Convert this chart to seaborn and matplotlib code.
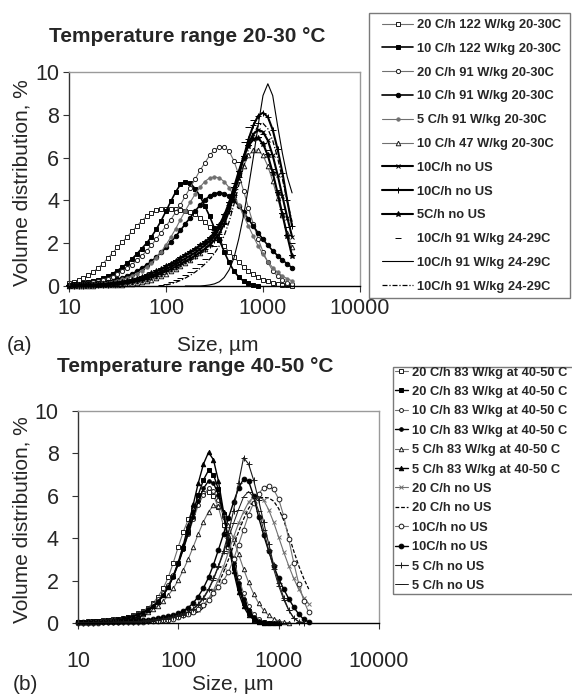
import numpy as np
import matplotlib
matplotlib.use("Agg")
import matplotlib.pyplot as plt
import seaborn as sns
from matplotlib.patches import Rectangle
from matplotlib.ticker import NullLocator, FixedLocator

# ---------------- data ----------------
sizes = [10.0, 11.2, 12.6, 14.1, 15.8, 17.8, 20.0, 22.4, 25.1, 28.2,
         31.6, 35.5, 39.8, 44.7, 50.1, 56.2, 63.1, 70.8, 79.4, 89.1,
         100, 112, 126, 141, 158, 178, 200, 224, 251, 282,
         316, 355, 398, 447, 501, 562, 631, 708, 794, 891,
         1000, 1122, 1259, 1413, 1585, 1778, 1995]

N = None

top_labels = ["20 C/h 122 W/kg 20-30C", "10 C/h 122 W/kg 20-30C",
              "20 C/h 91 W/kg 20-30C", "10 C/h 91 W/kg 20-30C",
              "5 C/h 91 W/kg 20-30C", "10 C/h 47 W/kg 20-30C",
              "10C/h no US", "10C/h no US", "5C/h no US",
              "10C/h 91 W/kg 24-29C", "10C/h 91 W/kg 24-29C",
              "10C/h 91 W/kg 24-29C"]

t1 = [0.15, 0.2, 0.28, 0.38, 0.5, 0.65, 0.85, 1.05, 1.3, 1.55,
      1.8, 2.05, 2.3, 2.55, 2.8, 3.05, 3.25, 3.4, 3.55, 3.6,
      3.62, 3.62, 3.6, 3.57, 3.52, 3.45, 3.35, 3.2, 3.0, 2.75,
      2.45, 2.15, 1.85, 1.6, 1.35, 1.1, 0.9, 0.7, 0.55, 0.42,
      0.3, 0.22, 0.15, 0.1, 0.07, 0.04, 0.02]
t2 = [0.06, 0.08, 0.1, 0.13, 0.17, 0.22, 0.28, 0.36, 0.46, 0.58,
      0.72, 0.88, 1.06, 1.27, 1.5, 1.75, 2.0, 2.3, 2.65, 3.05,
      3.5, 3.95, 4.4, 4.75, 4.88, 4.8, 4.55, 4.2, 3.75, 3.25,
      2.7, 2.15, 1.6, 1.1, 0.7, 0.42, 0.23, 0.12, 0.05, 0.01,
      N, N, N, N, N, N, N]
t3 = [0.05, 0.06, 0.08, 0.1, 0.13, 0.17, 0.22, 0.28, 0.35, 0.44,
      0.55, 0.68, 0.83, 1.0, 1.2, 1.4, 1.65, 1.9, 2.2, 2.5,
      2.8, 3.1, 3.45, 3.8, 4.2, 4.6, 5.0, 5.4, 5.75, 6.1,
      6.35, 6.5, 6.5, 6.3, 5.85, 5.2, 4.45, 3.65, 2.9, 2.2,
      1.6, 1.1, 0.72, 0.45, 0.27, 0.15, 0.08]
t4 = [0.03, 0.04, 0.05, 0.06, 0.08, 0.1, 0.13, 0.16, 0.2, 0.25,
      0.31, 0.38, 0.47, 0.57, 0.69, 0.83, 0.98, 1.15, 1.35, 1.57,
      1.8, 2.05, 2.32, 2.6, 2.9, 3.2, 3.5, 3.78, 4.02, 4.2,
      4.32, 4.36, 4.32, 4.2, 4.0, 3.75, 3.45, 3.12, 2.8, 2.48,
      2.18, 1.9, 1.65, 1.42, 1.22, 1.03, 0.85]
t5 = [0.02, 0.03, 0.04, 0.05, 0.06, 0.08, 0.1, 0.13, 0.16, 0.2,
      0.25, 0.31, 0.38, 0.47, 0.58, 0.72, 0.88, 1.08, 1.32, 1.6,
      1.92, 2.28, 2.68, 3.1, 3.52, 3.92, 4.3, 4.62, 4.88, 5.05,
      5.1, 5.05, 4.88, 4.6, 4.22, 3.78, 3.3, 2.8, 2.32, 1.88,
      1.48, 1.14, 0.86, 0.64, 0.47, 0.34, 0.24]
t6 = [0.01, 0.01, 0.01, 0.02, 0.02, 0.02, 0.03, 0.03, 0.04, 0.05,
      0.06, 0.07, 0.09, 0.11, 0.14, 0.18, 0.23, 0.3, 0.38, 0.47,
      0.57, 0.68, 0.8, 0.93, 1.07, 1.22, 1.38, 1.55, 1.75, 1.98,
      2.25, 2.6, 3.05, 3.6, 4.25, 4.95, 5.6, 6.1, 6.35, 6.35,
      6.1, 5.6, 4.9, 4.1, 3.3, 2.5, 1.8]
t7 = [0.02, 0.02, 0.03, 0.03, 0.04, 0.05, 0.06, 0.07, 0.08, 0.1,
      0.12, 0.15, 0.18, 0.22, 0.27, 0.33, 0.4, 0.48, 0.57, 0.67,
      0.78, 0.9, 1.02, 1.15, 1.28, 1.42, 1.56, 1.72, 1.9, 2.1,
      2.35, 2.7, 3.15, 3.75, 4.45, 5.25, 6.0, 6.65, 7.1, 7.3,
      7.2, 6.8, 6.1, 5.2, 4.2, 3.2, 2.3]
t8 = [0.01, 0.01, 0.02, 0.02, 0.03, 0.03, 0.04, 0.05, 0.06, 0.08,
      0.1, 0.12, 0.15, 0.19, 0.23, 0.28, 0.34, 0.41, 0.49, 0.58,
      0.68, 0.79, 0.9, 1.02, 1.15, 1.28, 1.42, 1.57, 1.73, 1.92,
      2.15, 2.45, 2.9, 3.5, 4.25, 5.1, 6.0, 6.85, 7.5, 7.95,
      8.1, 7.9, 7.3, 6.4, 5.3, 4.0, 2.8]
t9 = [0.02, 0.03, 0.03, 0.04, 0.05, 0.06, 0.07, 0.09, 0.11, 0.13,
      0.16, 0.2, 0.24, 0.29, 0.35, 0.42, 0.5, 0.59, 0.69, 0.8,
      0.92, 1.05, 1.18, 1.32, 1.46, 1.6, 1.75, 1.9, 2.06, 2.25,
      2.5, 2.85, 3.3, 3.9, 4.6, 5.35, 6.05, 6.55, 6.85, 6.9,
      6.65, 6.1, 5.3, 4.35, 3.35, 2.35, 1.4]
t10 = [N, N, N, N, N, N, N, N, N, N,
       N, N, N, N, N, N, N, N, 0.02, 0.05,
       0.1, 0.17, 0.26, 0.37, 0.5, 0.65, 0.82, 1.02, 1.25, 1.52,
       1.85, 2.3, 2.95, 3.8, 4.8, 5.8, 6.75, 7.45, 7.75, 7.6,
       7.1, 6.35, 5.45, 4.5, 3.6, 2.75, 2.0]
t11 = [N, N, N, N, N, N, N, N, N, N,
       N, N, N, N, N, N, N, N, N, N,
       N, N, N, N, 0.0, 0.0, 0.0, 0.0, 0.02, 0.05,
       0.1, 0.2, 0.4, 0.75, 1.3, 2.2, 3.3, 4.6, 6.0, 7.5,
       8.9, 9.45, 8.9, 7.5, 6.2, 5.1, 4.35]
t12 = [N, N, N, N, N, N, N, N, N, N,
       N, N, N, N, N, N, N, N, N, N,
       0.05, 0.1, 0.17, 0.26, 0.37, 0.5, 0.65, 0.82, 1.02, 1.25,
       1.52, 1.88, 2.35, 3.0, 3.8, 4.7, 5.6, 6.4, 7.05, 7.5,
       7.6, 7.35, 6.8, 6.0, 5.0, 3.95, 3.0]

bot_labels = ["20 C/h 83 W/kg at 40-50 C", "20 C/h 83 W/kg at 40-50 C",
              "10 C/h 83 W/kg at 40-50 C", "10 C/h 83 W/kg at 40-50 C",
              "5 C/h 83 W/kg at 40-50 C", "5 C/h 83 W/kg at 40-50 C",
              "20 C/h no US", "20 C/h no US", "10C/h no US", "10C/h no US",
              "5 C/h no US", "5 C/h no US"]

b1 = [0.06, 0.07, 0.08, 0.09, 0.1, 0.12, 0.14, 0.17, 0.2, 0.25,
      0.3, 0.37, 0.46, 0.58, 0.73, 0.95, 1.25, 1.65, 2.15, 2.85,
      3.6, 4.3, 4.9, 5.4, 5.85, 6.12, 6.2, 6.0, 5.45, 4.6,
      3.6, 2.6, 1.72, 1.02, 0.55, 0.25, 0.1, 0.03, 0.01, 0.0,
      0.0, N, N, N, N, N, N]
b2 = [0.05, 0.06, 0.07, 0.08, 0.09, 0.1, 0.12, 0.14, 0.17, 0.21,
      0.26, 0.32, 0.4, 0.5, 0.63, 0.8, 1.02, 1.32, 1.7, 2.2,
      2.82, 3.55, 4.38, 5.25, 6.05, 6.75, 7.2, 7.0, 6.3, 5.15,
      3.85, 2.65, 1.65, 0.95, 0.48, 0.2, 0.07, 0.02, 0.0, 0.0,
      0.0, N, N, N, N, N, N]
b3 = [0.06, 0.07, 0.08, 0.09, 0.1, 0.12, 0.14, 0.17, 0.2, 0.24,
      0.29, 0.36, 0.45, 0.56, 0.7, 0.88, 1.12, 1.42, 1.8, 2.28,
      2.85, 3.5, 4.2, 4.9, 5.55, 6.05, 6.35, 6.25, 5.8, 5.0,
      4.05, 3.05, 2.15, 1.4, 0.82, 0.42, 0.19, 0.07, 0.02, 0.0,
      0.0, N, N, N, N, N, N]
b4 = [0.05, 0.06, 0.07, 0.08, 0.09, 0.11, 0.13, 0.15, 0.18, 0.22,
      0.27, 0.33, 0.41, 0.51, 0.64, 0.81, 1.03, 1.32, 1.7, 2.18,
      2.78, 3.48, 4.25, 5.02, 5.75, 6.35, 6.7, 6.6, 6.05, 5.1,
      3.95, 2.85, 1.88, 1.12, 0.6, 0.28, 0.11, 0.04, 0.01, 0.0,
      0.0, N, N, N, N, N, N]
b5 = [0.05, 0.06, 0.07, 0.08, 0.09, 0.1, 0.12, 0.14, 0.16, 0.19,
      0.23, 0.28, 0.34, 0.42, 0.52, 0.65, 0.82, 1.03, 1.3, 1.63,
      2.03, 2.5, 3.03, 3.6, 4.2, 4.78, 5.25, 5.55, 5.5, 5.15,
      4.6, 3.95, 3.25, 2.55, 1.92, 1.38, 0.93, 0.6, 0.36, 0.2,
      0.1, 0.04, 0.01, N, N, N, N]
b6 = [0.04, 0.05, 0.06, 0.07, 0.08, 0.09, 0.11, 0.13, 0.16, 0.19,
      0.24, 0.3, 0.38, 0.48, 0.61, 0.78, 1.0, 1.3, 1.7, 2.22,
      2.88, 3.68, 4.6, 5.6, 6.6, 7.5, 8.05, 7.7, 6.7, 5.25,
      3.75, 2.45, 1.45, 0.78, 0.38, 0.16, 0.06, 0.02, 0.0, 0.0,
      0.0, N, N, N, N, N, N]
b7 = [0.02, 0.02, 0.02, 0.03, 0.03, 0.03, 0.04, 0.04, 0.05, 0.05,
      0.06, 0.07, 0.08, 0.09, 0.11, 0.13, 0.15, 0.18, 0.21, 0.25,
      0.3, 0.36, 0.43, 0.52, 0.63, 0.85, 1.15, 1.55, 2.05, 2.65,
      3.35, 4.05, 4.7, 5.25, 5.7, 5.95, 6.0, 5.8, 5.35, 4.75,
      4.05, 3.35, 2.7, 2.1, 1.6, 1.2, 0.9]
b8 = [0.02, 0.02, 0.02, 0.02, 0.03, 0.03, 0.03, 0.04, 0.04, 0.05,
      0.05, 0.06, 0.07, 0.08, 0.1, 0.11, 0.13, 0.16, 0.19, 0.22,
      0.26, 0.31, 0.37, 0.44, 0.53, 0.72, 1.0, 1.38, 1.85, 2.4,
      3.0, 3.65, 4.3, 4.9, 5.4, 5.75, 5.9, 5.92, 5.9, 5.75,
      5.4, 4.85, 4.15, 3.4, 2.7, 2.1, 1.6]
b9 = [0.02, 0.02, 0.02, 0.02, 0.02, 0.03, 0.03, 0.03, 0.04, 0.04,
      0.05, 0.05, 0.06, 0.07, 0.08, 0.1, 0.11, 0.13, 0.16, 0.19,
      0.3, 0.36, 0.44, 0.54, 0.68, 0.86, 1.1, 1.4, 1.7, 2.0,
      2.4, 3.0, 3.7, 4.4, 5.1, 5.65, 6.1, 6.38, 6.45, 6.3,
      5.85, 5.05, 3.95, 2.85, 1.85, 1.05, 0.5]
b10 = [0.03, 0.03, 0.03, 0.04, 0.04, 0.05, 0.05, 0.06, 0.07, 0.08,
       0.09, 0.1, 0.12, 0.14, 0.16, 0.19, 0.22, 0.26, 0.31, 0.37,
       0.45, 0.57, 0.73, 0.95, 1.25, 1.65, 2.15, 2.75, 3.45, 4.2,
       4.95, 5.7, 6.35, 6.8, 6.7, 6.0, 5.0, 4.15, 3.4, 2.7,
       2.1, 1.6, 1.15, 0.75, 0.42, 0.17, 0.05]
b11 = [0.02, 0.02, 0.02, 0.02, 0.03, 0.03, 0.03, 0.03, 0.04, 0.04,
       0.05, 0.06, 0.07, 0.08, 0.1, 0.12, 0.14, 0.17, 0.21, 0.26,
       0.32, 0.4, 0.52, 0.68, 0.9, 1.2, 1.6, 2.1, 2.7, 3.4,
       4.25, 5.3, 6.6, 7.8, 7.5, 6.75, 5.8, 4.75, 3.75, 2.75,
       1.9, 1.2, 0.62, 0.22, 0.06, 0.01, N]
b12 = [0.02, 0.02, 0.02, 0.03, 0.03, 0.03, 0.04, 0.04, 0.05, 0.05,
       0.06, 0.07, 0.08, 0.1, 0.12, 0.14, 0.17, 0.2, 0.24, 0.29,
       0.35, 0.43, 0.53, 0.66, 0.85, 1.15, 1.55, 2.05, 2.65, 3.3,
       4.0, 4.7, 5.35, 5.95, 6.2, 5.95, 5.3, 4.4, 3.45, 2.55,
       1.75, 1.1, 0.6, 0.25, 0.07, 0.01, N]

x_ticks = [10, 100, 1000, 10000]
x_ticklabels = ["10", "100", "1000", "10000"]
y_ticks = [0, 2, 4, 6, 8, 10]

# ---------------- styles ----------------
GRAY = "#707070"
DARK = "#1a1a1a"
top_styles = [
    dict(color=GRAY, marker="s", markerfacecolor="white", markeredgecolor=DARK, markersize=3.3, linewidth=0.8),
    dict(color="black", marker="s", markerfacecolor="black", markeredgecolor="black", markersize=3.3, linewidth=1.2),
    dict(color=GRAY, marker="o", markerfacecolor="white", markeredgecolor=DARK, markersize=3.0, linewidth=0.8),
    dict(color="black", marker="o", markerfacecolor="black", markeredgecolor="black", markersize=3.2, linewidth=1.2),
    dict(color=GRAY, marker="o", markerfacecolor=GRAY, markeredgecolor=GRAY, markersize=2.4, linewidth=0.8),
    dict(color=GRAY, marker="^", markerfacecolor="white", markeredgecolor=DARK, markersize=3.3, linewidth=0.8),
    dict(color="black", marker="x", markerfacecolor="black", markeredgecolor="black", markersize=3.3, linewidth=1.5),
    dict(color="black", marker="+", markerfacecolor="black", markeredgecolor="black", markersize=3.8, linewidth=1.5),
    dict(color="black", marker="*", markerfacecolor="black", markeredgecolor="black", markersize=3.8, linewidth=1.5),
    dict(color="black", marker="_", markerfacecolor="black", markeredgecolor="black", markersize=4.0, linestyle="none"),
    dict(color="black", linewidth=0.8),
    dict(color="black", linewidth=0.9, linestyle=(0, (4, 1.5, 1, 1.5))),
]
bot_styles = [
    dict(color=GRAY, marker="s", markerfacecolor="white", markeredgecolor=DARK, markersize=3.3, linewidth=0.8),
    dict(color="black", marker="s", markerfacecolor="black", markeredgecolor="black", markersize=3.3, linewidth=1.0),
    dict(color=GRAY, marker="o", markerfacecolor="white", markeredgecolor=DARK, markersize=2.8, linewidth=0.8),
    dict(color="black", marker="o", markerfacecolor="black", markeredgecolor="black", markersize=2.6, linewidth=1.0),
    dict(color=GRAY, marker="^", markerfacecolor="white", markeredgecolor=DARK, markersize=3.2, linewidth=0.8),
    dict(color="black", marker="^", markerfacecolor="black", markeredgecolor="black", markersize=3.2, linewidth=1.0),
    dict(color=GRAY, marker="x", markerfacecolor=GRAY, markeredgecolor=GRAY, markersize=3.3, linewidth=0.8),
    dict(color="black", linewidth=0.9, linestyle=(0, (3, 1.5))),
    dict(color=GRAY, marker="o", markerfacecolor="white", markeredgecolor=DARK, markersize=3.4, linewidth=0.8),
    dict(color="black", marker="o", markerfacecolor="black", markeredgecolor="black", markersize=3.4, linewidth=1.0),
    dict(color=DARK, marker="+", markerfacecolor=DARK, markeredgecolor=DARK, markersize=4.0, linewidth=0.8),
    dict(color=DARK, marker="_", markerfacecolor=DARK, markeredgecolor=DARK, markersize=4.0, linewidth=0.7),
]

sns.set_style("white")
plt.rcParams["font.family"] = ["Liberation Sans", "DejaVu Sans"]

W, H = 572, 695
fig = plt.figure(figsize=(W / 100, H / 100), dpi=100)


def fx(px):
    return px / W


def fy(py):
    return 1 - py / H


ax1 = fig.add_axes([fx(69), fy(286), 291 / W, 214 / H])
ax2 = fig.add_axes([fx(78), fy(623), 301 / W, 212 / H])

x = np.array(sizes, dtype=float)
top_series = [t1, t2, t3, t4, t5, t6, t7, t8, t9, t10, t11, t12]
bot_series = [b1, b2, b3, b4, b5, b6, b7, b8, b9, b10, b11, b12]

for ax, series, labels, styles in [(ax1, top_series, top_labels, top_styles),
                                   (ax2, bot_series, bot_labels, bot_styles)]:
    ax.set_xscale("log")
    for vals, lab, st in zip(series, labels, styles):
        y = np.array(vals, dtype=float)
        m = ~np.isnan(y)
        kw = dict(st)
        kw.setdefault("markeredgewidth", 0.7)
        sns.lineplot(x=x[m], y=y[m], ax=ax, label=lab, legend=False,
                     estimator=None, sort=False, clip_on=False, **kw)


def style_axes(ax, xpad, ypad):
    ax.set_xlim(10, 10000)
    ax.set_ylim(0, 10)
    ax.set_xticks(x_ticks)
    ax.set_xticklabels(x_ticklabels)
    ax.xaxis.set_minor_locator(NullLocator())
    ax.set_yticks(y_ticks)
    ax.set_yticklabels([str(v) for v in y_ticks])
    ax.yaxis.set_minor_locator(FixedLocator(y_ticks[1:-1]))
    ax.set_axisbelow(True)
    ax.grid(False)
    ax.grid(which="minor", axis="y", color="black", linewidth=1.0)
    ax.tick_params(axis="x", which="major", direction="out", length=4, width=0.8,
                   pad=xpad, labelsize=15.5, bottom=True, color="#333333")
    ax.tick_params(axis="y", which="major", direction="out", length=4, width=0.8,
                   pad=ypad, labelsize=15.5, left=True, color="#333333")
    ax.tick_params(axis="y", which="minor", length=0)
    ax.spines["left"].set_color("#333333")
    ax.spines["bottom"].set_color("black")
    ax.spines["top"].set_color("#9a9a9a")
    ax.spines["right"].set_color("#9a9a9a")
    for s in ax.spines.values():
        s.set_linewidth(1.0)
        s.set_visible(True)
    ax.set_xlabel("")
    ax.set_ylabel("")
    ax.set_facecolor("white")


style_axes(ax1, 5, 3)
style_axes(ax2, 16, 10)

# titles and labels
fig.text(fx(187), fy(37), "Temperature range 20-30 °C", ha="center", va="center",
         fontsize=15, fontweight="bold")
fig.text(fx(195), fy(367), "Temperature range 40-50 °C", ha="center", va="center",
         fontsize=15, fontweight="bold")
fig.text(fx(22), fy(183), "Volume distribution, %", rotation=90, ha="center", va="center", fontsize=15)
fig.text(fx(22), fy(520), "Volume distribution, %", rotation=90, ha="center", va="center", fontsize=15)
fig.text(fx(218), fy(346), "Size, µm", ha="center", va="center", fontsize=15)
fig.text(fx(233), fy(685), "Size, µm", ha="center", va="center", fontsize=15)
fig.text(fx(19), fy(346), "(a)", ha="center", va="center", fontsize=15)
fig.text(fx(25), fy(685), "(b)", ha="center", va="center", fontsize=15)

# legends
prop = dict(family="Liberation Sans", weight="bold", size=9.3)
h1, l1 = ax1.get_legend_handles_labels()
fig.legend(h1, l1, loc="upper left", bbox_to_anchor=(fx(382), fy(19)),
           frameon=False, borderpad=0, borderaxespad=0, handlelength=2.4,
           handletextpad=0.3, labelspacing=0.91, prop=prop)
h2, l2 = ax2.get_legend_handles_labels()
fig.legend(h2, l2, loc="upper left", bbox_to_anchor=(fx(395), fy(366.5)),
           frameon=False, borderpad=0, borderaxespad=0, handlelength=1.0,
           handletextpad=0.3, labelspacing=0.57, prop=prop)

fig.add_artist(Rectangle((fx(369), fy(298)), 201 / W, 285 / H, transform=fig.transFigure,
                         fill=False, edgecolor="#7a7a7a", linewidth=1.0))
fig.add_artist(Rectangle((fx(393), fy(594)), 190 / W, 227 / H, transform=fig.transFigure,
                         fill=False, edgecolor="#7a7a7a", linewidth=1.0))

fig.savefig("out.png", dpi=100)
